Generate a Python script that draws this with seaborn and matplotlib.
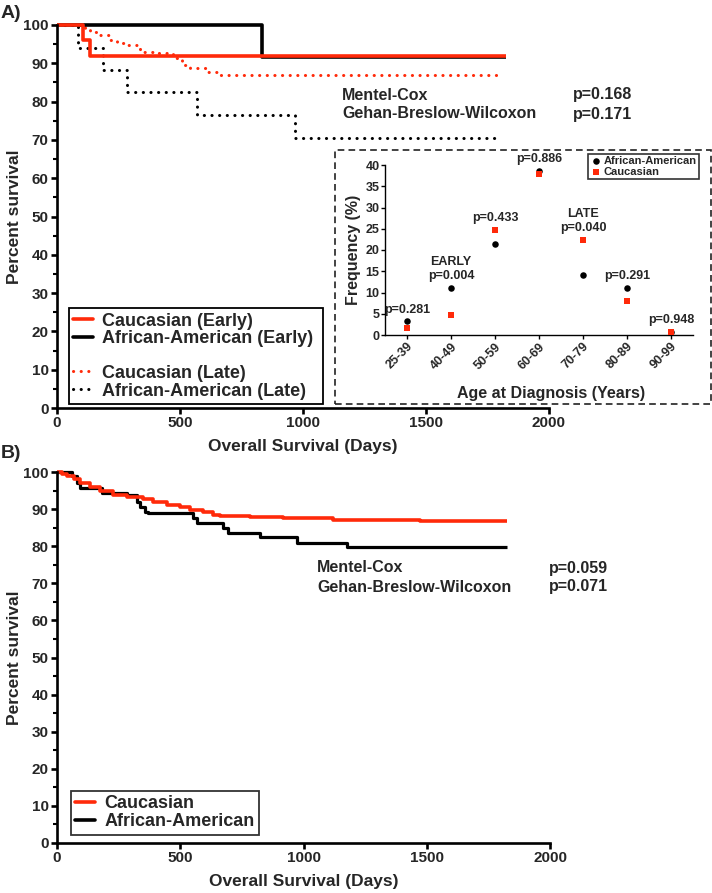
import matplotlib
matplotlib.use("Agg")
import matplotlib.pyplot as plt
from matplotlib.patches import Rectangle
from matplotlib.lines import Line2D
import seaborn as sns
import pandas as pd

# ---- data ----
# panel A, Kaplan-Meier steps (days, percent survival)
cauc_early_days = [0, 105, 135, 1825]
cauc_early_surv = [100, 96.0, 92.0, 92.0]
aa_early_days = [0, 833, 1825]
aa_early_surv = [100, 91.7, 91.7]
cauc_late_days = [0, 114, 134, 175, 215, 243, 283, 337, 405, 473, 507, 541, 608, 649, 934, 1800]
cauc_late_surv = [100, 99.0, 98.2, 97.4, 96.1, 95.2, 94.8, 93.0, 92.6, 91.3, 89.6, 88.7, 87.8, 86.9, 86.9, 86.9]
aa_late_days = [0, 87, 188, 283, 568, 967, 1795]
aa_late_surv = [100, 94.1, 88.2, 82.4, 76.5, 70.6, 70.6]

# panel A inset: age at diagnosis
age_groups = ["25-39", "40-49", "50-59", "60-69", "70-79", "80-89", "90-99"]
aa_freq = [3.2, 11.1, 21.4, 38.6, 14.1, 11.1, 0.8]
cauc_freq = [1.7, 4.6, 24.8, 38.0, 22.4, 8.1, 0.8]
p_labels = ["p=0.281", "EARLY\np=0.004", "p=0.433", "p=0.886", "LATE\np=0.040", "p=0.291", "p=0.948"]

# panel B, all patients
cauc_all_days = [0, 20, 41, 70, 95, 135, 176, 228, 283, 350, 391, 445, 499, 540, 594, 634, 661,
                 783, 918, 1121, 1473, 1825]
cauc_all_surv = [100, 99.5, 98.9, 98.0, 97.1, 96.0, 95.0, 93.8, 93.2, 92.6, 91.8, 91.1, 90.5,
                 89.8, 89.3, 88.4, 88.1, 88.0, 87.5, 87.1, 86.8, 86.8]
aa_all_days = [0, 60, 80, 95, 181, 283, 323, 337, 357, 370, 553, 567, 675, 695, 824, 972, 1175, 1825]
aa_all_surv = [100, 98.8, 97.0, 95.8, 94.3, 93.8, 92.0, 90.6, 89.3, 88.9, 87.5, 86.2, 84.8, 83.6,
               82.6, 80.9, 79.9, 79.9]

tests = ["Mentel-Cox", "Gehan-Breslow-Wilcoxon"]
p_top = ["p=0.168", "p=0.171"]
p_bottom = ["p=0.059", "p=0.071"]

RED = "#ff2a0a"
BLACK = "#000000"

sns.set_style("ticks")
plt.rcParams["font.family"] = ["Liberation Sans", "DejaVu Sans"]
plt.rcParams["font.weight"] = "bold"
plt.rcParams["axes.labelweight"] = "bold"

W, H = 712, 893
fig = plt.figure(figsize=(W / 100, H / 100), dpi=100)


def fx(px):
    return px / W


def fy(py):
    return 1 - py / H


def km(ax, days, surv, color, ls="-", lw=2.4):
    df = pd.DataFrame({"days": days, "surv": surv})
    sns.lineplot(data=df, x="days", y="surv", ax=ax, color=color, lw=lw, estimator=None,
                 drawstyle="steps-post", linestyle=ls, dash_capstyle="round",
                 solid_capstyle="butt", clip_on=False)


def style_km(ax):
    ax.set_xlim(0, 2000)
    ax.set_ylim(0, 100)
    ax.set_xticks([0, 500, 1000, 1500, 2000])
    ax.set_yticks(range(0, 101, 10))
    ax.set_yticks(range(5, 100, 10), minor=True)
    for s in ["top", "right"]:
        ax.spines[s].set_visible(False)
    for s in ["left", "bottom"]:
        ax.spines[s].set_linewidth(1.9)
        ax.spines[s].set_color("black")
    ax.tick_params(axis="both", which="major", length=4, width=1.9, labelsize=11, color="black", pad=2)
    ax.tick_params(axis="y", which="minor", length=3, width=1.5, color="black")
    ax.set_xlabel("Overall Survival (Days)", fontsize=12.5, labelpad=6)
    ax.set_ylabel("Percent survival", fontsize=12.5, labelpad=1)
    for lab in ax.get_xticklabels() + ax.get_yticklabels():
        lab.set_fontweight("bold")


DOT = (0, (0.05, 2.45))

# ---------------- panel A ----------------
axA = fig.add_axes([fx(57), fy(408), fx(549 - 57), (408 - 25) / H])
km(axA, cauc_late_days, cauc_late_surv, RED, DOT, lw=2.2)
km(axA, aa_late_days, aa_late_surv, BLACK, DOT, lw=2.2)
km(axA, aa_early_days, aa_early_surv, BLACK, "-", lw=2.6)
km(axA, cauc_early_days, cauc_early_surv, RED, "-", lw=2.6)
style_km(axA)

h_early = [Line2D([], [], color=RED, lw=2.6), Line2D([], [], color=BLACK, lw=2.6)]
h_late = [Line2D([], [], color=RED, lw=2.2, ls=DOT, dash_capstyle="round"),
          Line2D([], [], color=BLACK, lw=2.2, ls=DOT, dash_capstyle="round")]
leg_kw = dict(frameon=False, fontsize=13, handlelength=1.1, handletextpad=0.5,
              labelspacing=0.05, borderaxespad=0, borderpad=0.25)
leg1 = axA.legend(h_early, ["Caucasian (Early)", "African-American (Early)"], loc="upper left",
                  bbox_to_anchor=(0.024, 0.261), **leg_kw)
axA.add_artist(leg1)
axA.legend(h_late, ["Caucasian (Late)", "African-American (Late)"], loc="lower left",
           bbox_to_anchor=(0.024, 0.010), **leg_kw)
axA.add_patch(Rectangle((0.024, 0.010), 0.517, 0.251, transform=axA.transAxes, fill=False,
                        lw=1.3, edgecolor="black", clip_on=False, zorder=5))

for i, t in enumerate(tests):
    fig.text(fx(342), fy(95 + 19 * i), t, fontsize=11.5, fontweight="bold", va="center")
    fig.text(fx(573), fy(95 + 19 * i), p_top[i], fontsize=11.5, fontweight="bold", va="center")

fig.text(fx(1), fy(14), "A)", fontsize=14, fontweight="bold", va="center")

# dashed frame around the inset
fig.patches.append(Rectangle((fx(335), fy(404)), fx(711 - 335), (404 - 150) / H,
                             transform=fig.transFigure, fill=False, lw=1.2, edgecolor="#222222",
                             linestyle=(0, (4, 2.5))))

# inset
axI = fig.add_axes([fx(385), fy(335), fx(693 - 385), (335 - 165) / H])
sns.scatterplot(x=age_groups, y=aa_freq, ax=axI, color=BLACK, marker="o", s=22, linewidth=0,
                label="African-American", zorder=3)
sns.scatterplot(x=age_groups, y=cauc_freq, ax=axI, color=RED, marker="s", s=14, linewidth=0,
                label="Caucasian", zorder=4)
axI.set_xlim(-0.5, 6.5)
axI.set_ylim(0, 40)
axI.set_yticks(range(0, 41, 5))
for s in ["top", "right"]:
    axI.spines[s].set_visible(False)
for s in ["left", "bottom"]:
    axI.spines[s].set_linewidth(1.0)
    axI.spines[s].set_color("black")
axI.tick_params(axis="both", length=3, width=1.0, labelsize=9, color="black", pad=1)
axI.set_xticks(range(len(age_groups)))
axI.set_xticklabels(age_groups, rotation=45, ha="right", rotation_mode="anchor", fontweight="bold")
for lab in axI.get_yticklabels():
    lab.set_fontweight("bold")
axI.set_xlabel("Age at Diagnosis (Years)", fontsize=11.5, labelpad=4)
axI.xaxis.set_label_coords(0.54, -0.3)
axI.set_ylabel("Frequency (%)", fontsize=11.5, labelpad=3)
for g, a, c, p in zip(age_groups, aa_freq, cauc_freq, p_labels):
    axI.annotate(p, xy=(g, max(a, c)), xytext=(0, 4), textcoords="offset points",
                 ha="center", va="bottom", fontsize=9, fontweight="bold", linespacing=1.2)
legI = axI.legend(loc="upper right", bbox_to_anchor=(fx(699), fy(154)), bbox_transform=fig.transFigure,
                  borderaxespad=0, fontsize=8, frameon=True, fancybox=False, edgecolor="black",
                  handletextpad=0.2, borderpad=0.2, labelspacing=0.05, handlelength=1.0)
legI.get_frame().set_linewidth(1.2)
for t in legI.get_texts():
    t.set_fontweight("bold")

# ---------------- panel B ----------------
axB = fig.add_axes([fx(57), fy(843), fx(550 - 57), (843 - 472) / H])
km(axB, aa_all_days, aa_all_surv, BLACK, "-", lw=2.3)
km(axB, cauc_all_days, cauc_all_surv, RED, "-", lw=2.6)
style_km(axB)
hB = [Line2D([], [], color=RED, lw=2.6), Line2D([], [], color=BLACK, lw=2.6)]
legB = axB.legend(hB, ["Caucasian", "African-American"], loc="lower left", bbox_to_anchor=(0.028, 0.022),
                  borderaxespad=0, fontsize=13, frameon=True, fancybox=False, edgecolor="black",
                  handlelength=1.1, handletextpad=0.5, labelspacing=0.05, borderpad=0.25)
legB.get_frame().set_linewidth(1.3)

for i, t in enumerate(tests):
    fig.text(fx(317), fy(568 + 19 * i), t, fontsize=11.5, fontweight="bold", va="center")
    fig.text(fx(549), fy(568 + 19 * i), p_bottom[i], fontsize=11.5, fontweight="bold", va="center")

fig.text(fx(1), fy(454), "B)", fontsize=14, fontweight="bold", va="center")

fig.savefig("out.png", dpi=100)
